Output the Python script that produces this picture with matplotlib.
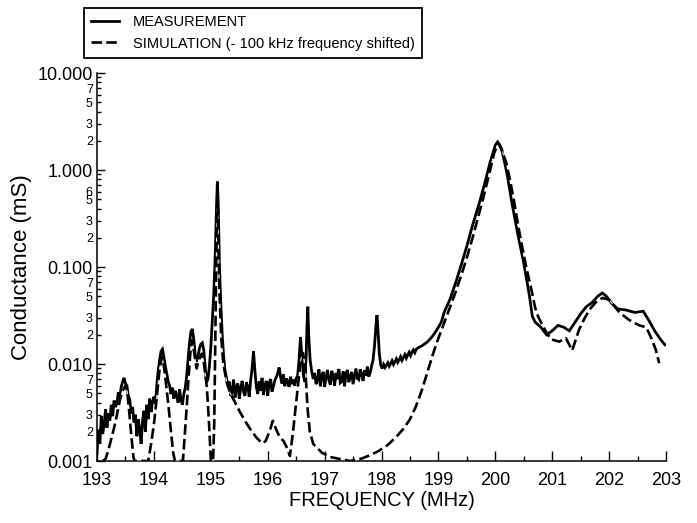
import matplotlib
matplotlib.use("Agg")
import numpy as np
import matplotlib.pyplot as plt
from matplotlib.ticker import FixedLocator, FuncFormatter, LogLocator, MultipleLocator

plt.rcParams['font.family'] = ['Liberation Sans', 'DejaVu Sans']

# measured conductance (mS) against frequency (MHz)
meas = [
    (193.000, 0.0012), (193.025, 0.0021), (193.050, 0.0015), (193.075, 0.0029),
    (193.100, 0.0019), (193.125, 0.0024), (193.150, 0.0034), (193.175, 0.0022),
    (193.200, 0.0031), (193.225, 0.0026), (193.250, 0.0038), (193.275, 0.0029),
    (193.300, 0.0042), (193.325, 0.0036), (193.350, 0.0040), (193.375, 0.0051),
    (193.400, 0.0045), (193.425, 0.0058), (193.450, 0.0066), (193.475, 0.0072),
    (193.500, 0.0063), (193.525, 0.0060), (193.550, 0.0047), (193.575, 0.0043),
    (193.600, 0.0031), (193.625, 0.0036), (193.650, 0.0025), (193.675, 0.0030),
    (193.700, 0.0018), (193.725, 0.0027), (193.750, 0.0021), (193.775, 0.0015),
    (193.800, 0.0026), (193.825, 0.0033), (193.850, 0.0020), (193.875, 0.0038),
    (193.900, 0.0027), (193.925, 0.0044), (193.950, 0.0032), (193.975, 0.0041),
    (194.000, 0.0046), (194.025, 0.0039), (194.050, 0.0060), (194.075, 0.0085),
    (194.100, 0.0110), (194.125, 0.0135), (194.150, 0.0142), (194.175, 0.0118),
    (194.200, 0.0095), (194.225, 0.0080), (194.250, 0.0066), (194.275, 0.0060),
    (194.300, 0.0049), (194.325, 0.0057), (194.350, 0.0044), (194.375, 0.0053),
    (194.400, 0.0047), (194.425, 0.0040), (194.450, 0.0055), (194.475, 0.0043),
    (194.500, 0.0038), (194.525, 0.0049), (194.550, 0.0057), (194.575, 0.0075),
    (194.600, 0.0110), (194.625, 0.0165), (194.650, 0.0215), (194.675, 0.0230),
    (194.700, 0.0180), (194.725, 0.0125), (194.750, 0.0105), (194.775, 0.0120),
    (194.800, 0.0145), (194.825, 0.0160), (194.850, 0.0165), (194.875, 0.0140),
    (194.900, 0.0095), (194.925, 0.0065), (194.950, 0.0070), (194.975, 0.0095),
    (195.000, 0.0150), (195.025, 0.0280), (195.050, 0.0500), (195.075, 0.1200),
    (195.100, 0.4200), (195.115, 0.7600), (195.130, 0.4500), (195.150, 0.1100),
    (195.175, 0.0420), (195.200, 0.0200), (195.225, 0.0120), (195.250, 0.0085),
    (195.275, 0.0072), (195.300, 0.0060), (195.325, 0.0066), (195.350, 0.0047),
    (195.375, 0.0052), (195.400, 0.0069), (195.425, 0.0045), (195.450, 0.0059),
    (195.475, 0.0063), (195.500, 0.0044), (195.525, 0.0056), (195.550, 0.0067),
    (195.575, 0.0052), (195.600, 0.0047), (195.625, 0.0065), (195.650, 0.0058),
    (195.675, 0.0046), (195.700, 0.0068), (195.725, 0.0090), (195.750, 0.0135),
    (195.775, 0.0085), (195.800, 0.0058), (195.825, 0.0049), (195.850, 0.0066),
    (195.875, 0.0053), (195.900, 0.0072), (195.925, 0.0048), (195.950, 0.0061),
    (195.975, 0.0067), (196.000, 0.0047), (196.025, 0.0064), (196.050, 0.0070),
    (196.075, 0.0052), (196.100, 0.0059), (196.125, 0.0068), (196.150, 0.0073),
    (196.175, 0.0080), (196.200, 0.0092), (196.225, 0.0074), (196.250, 0.0063),
    (196.275, 0.0078), (196.300, 0.0059), (196.325, 0.0071), (196.350, 0.0066),
    (196.375, 0.0058), (196.400, 0.0074), (196.425, 0.0062), (196.450, 0.0069),
    (196.475, 0.0060), (196.500, 0.0071), (196.525, 0.0075), (196.550, 0.0110),
    (196.575, 0.0190), (196.600, 0.0120), (196.625, 0.0078), (196.650, 0.0066),
    (196.675, 0.0120), (196.690, 0.0250), (196.705, 0.0390), (196.720, 0.0200),
    (196.745, 0.0110), (196.775, 0.0082), (196.800, 0.0070), (196.825, 0.0081),
    (196.850, 0.0062), (196.875, 0.0068), (196.900, 0.0088), (196.925, 0.0059),
    (196.950, 0.0077), (196.975, 0.0083), (197.000, 0.0058), (197.025, 0.0073),
    (197.050, 0.0087), (197.075, 0.0068), (197.100, 0.0061), (197.125, 0.0085),
    (197.150, 0.0076), (197.175, 0.0060), (197.200, 0.0081), (197.225, 0.0070),
    (197.250, 0.0089), (197.275, 0.0064), (197.300, 0.0066), (197.325, 0.0084),
    (197.350, 0.0059), (197.375, 0.0079), (197.400, 0.0087), (197.425, 0.0065),
    (197.450, 0.0073), (197.475, 0.0083), (197.500, 0.0062), (197.525, 0.0075),
    (197.550, 0.0090), (197.575, 0.0071), (197.600, 0.0069), (197.625, 0.0088),
    (197.650, 0.0079), (197.675, 0.0067), (197.700, 0.0086), (197.725, 0.0076),
    (197.750, 0.0094), (197.775, 0.0074), (197.800, 0.0081), (197.825, 0.0095),
    (197.850, 0.0110), (197.875, 0.0150), (197.900, 0.0240), (197.920, 0.0320),
    (197.940, 0.0210), (197.960, 0.0130), (197.985, 0.0098), (198.010, 0.0090),
    (198.035, 0.0099), (198.060, 0.0092), (198.085, 0.0097), (198.110, 0.0103),
    (198.135, 0.0095), (198.160, 0.0101), (198.185, 0.0108), (198.210, 0.0099),
    (198.235, 0.0106), (198.260, 0.0113), (198.285, 0.0104), (198.310, 0.0110),
    (198.335, 0.0119), (198.360, 0.0109), (198.385, 0.0117), (198.410, 0.0125),
    (198.435, 0.0115), (198.460, 0.0124), (198.485, 0.0132), (198.510, 0.0122),
    (198.535, 0.0133), (198.560, 0.0140), (198.585, 0.0131), (198.610, 0.0142),
    (198.650, 0.0148), (198.700, 0.0153), (198.750, 0.0160), (198.800, 0.0168),
    (198.850, 0.0180), (198.900, 0.0195), (198.950, 0.0215), (199.000, 0.0240),
    (199.050, 0.0270), (199.100, 0.0340), (199.200, 0.0460), (199.300, 0.0680),
    (199.400, 0.1050), (199.500, 0.1650), (199.600, 0.2700), (199.700, 0.4200),
    (199.800, 0.6800), (199.900, 1.1500), (199.950, 1.4500), (200.000, 1.8000),
    (200.040, 1.9500), (200.080, 1.8000), (200.120, 1.5500), (200.200, 0.9500),
    (200.300, 0.4300), (200.400, 0.2100), (200.500, 0.1100), (200.600, 0.0500),
    (200.650, 0.0310), (200.700, 0.0270), (200.800, 0.0240), (200.900, 0.0200),
    (201.000, 0.0220), (201.100, 0.0250), (201.200, 0.0240), (201.300, 0.0220),
    (201.400, 0.0270), (201.500, 0.0330), (201.600, 0.0390), (201.700, 0.0430),
    (201.800, 0.0500), (201.880, 0.0540), (201.950, 0.0500), (202.050, 0.0420),
    (202.150, 0.0370), (202.300, 0.0360), (202.450, 0.0340), (202.600, 0.0350),
    (202.700, 0.0280), (202.800, 0.0220), (202.900, 0.0180), (202.980, 0.0158),
]

# simulated conductance (mS), already shifted by -100 kHz
sim = [
    (193.100, 0.00100), (193.150, 0.00105), (193.200, 0.0013), (193.250, 0.0017),
    (193.300, 0.0022), (193.350, 0.0030), (193.400, 0.0042), (193.450, 0.0053),
    (193.500, 0.0060), (193.530, 0.0052), (193.560, 0.0035), (193.600, 0.0019),
    (193.640, 0.0011), (193.660, 0.0010), (193.900, 0.0010), (193.950, 0.0015),
    (194.000, 0.0024), (194.050, 0.0045), (194.100, 0.0090), (194.140, 0.0118),
    (194.170, 0.0100), (194.200, 0.0072), (194.250, 0.0040), (194.300, 0.0020),
    (194.340, 0.0012), (194.370, 0.0010), (194.510, 0.0010), (194.550, 0.0022),
    (194.580, 0.0039), (194.610, 0.0075), (194.640, 0.0130), (194.670, 0.0176),
    (194.700, 0.0140), (194.750, 0.0090), (194.790, 0.0110), (194.840, 0.0128),
    (194.880, 0.0100), (194.930, 0.0058), (194.960, 0.0030), (194.980, 0.0018),
    (195.000, 0.0010), (195.040, 0.0010), (195.060, 0.0025), (195.080, 0.0200),
    (195.100, 0.2000), (195.115, 0.6000), (195.130, 0.2500), (195.150, 0.0600),
    (195.180, 0.0200), (195.220, 0.0100), (195.280, 0.0065), (195.340, 0.0050),
    (195.400, 0.0043), (195.500, 0.0033), (195.600, 0.0026), (195.700, 0.0021),
    (195.800, 0.00175), (195.900, 0.00152), (195.960, 0.0016), (196.030, 0.0020),
    (196.090, 0.0026), (196.150, 0.0021), (196.210, 0.00177), (196.280, 0.0016),
    (196.330, 0.0014), (196.390, 0.00113), (196.440, 0.0019), (196.500, 0.0040),
    (196.540, 0.0065), (196.580, 0.0110), (196.620, 0.0130), (196.660, 0.0090),
    (196.700, 0.0035), (196.740, 0.0020), (196.800, 0.0015), (196.860, 0.00138),
    (196.950, 0.00122), (197.100, 0.00110), (197.300, 0.00104), (197.450, 0.00100),
    (197.650, 0.00106), (197.800, 0.00115), (197.950, 0.00127), (198.100, 0.00145),
    (198.250, 0.00175), (198.400, 0.0022), (198.500, 0.0027), (198.600, 0.0036),
    (198.700, 0.0052), (198.800, 0.0080), (198.900, 0.0125), (199.000, 0.0185),
    (199.100, 0.0265), (199.200, 0.038), (199.300, 0.055), (199.400, 0.082),
    (199.500, 0.125), (199.600, 0.20), (199.700, 0.33), (199.800, 0.55),
    (199.900, 0.95), (199.980, 1.50), (200.050, 1.88), (200.100, 1.70),
    (200.190, 1.20), (200.260, 0.78), (200.330, 0.47), (200.400, 0.27),
    (200.470, 0.163), (200.550, 0.095), (200.630, 0.060), (200.700, 0.038),
    (200.750, 0.031), (200.800, 0.027), (200.900, 0.021), (200.980, 0.018),
    (201.120, 0.017), (201.240, 0.0185), (201.350, 0.0138), (201.470, 0.0225),
    (201.560, 0.029), (201.650, 0.036), (201.760, 0.043), (201.880, 0.048),
    (202.000, 0.046), (202.100, 0.039), (202.180, 0.034), (202.350, 0.0285),
    (202.530, 0.025), (202.650, 0.024), (202.750, 0.018), (202.820, 0.014),
    (202.880, 0.0102),
]

meas_f = [p[0] for p in meas]
meas_g = [p[1] for p in meas]
sim_f = [p[0] for p in sim]
sim_g = [p[1] for p in sim]

x_ticks = [193, 194, 195, 196, 197, 198, 199, 200, 201, 202, 203]
y_major = [0.001, 0.01, 0.1, 1.0, 10.0]
# minor positions that carry a small digit label
y_minor_labelled = [0.002, 0.003, 0.005, 0.007,
                    0.02, 0.03, 0.05, 0.07,
                    0.2, 0.3, 0.5, 0.6,
                    2, 3, 5, 7]

fig = plt.figure(figsize=(6.97, 5.23), dpi=100)
ax = fig.add_axes([0.1392, 0.1185, 0.8164, 0.7419])

ax.plot(meas_f, meas_g, color='black', lw=2.0, solid_joinstyle='miter',
        label='MEASUREMENT', zorder=3)
# thin white core so the dash gaps show where the curves overlap
ax.plot(sim_f, sim_g, color='white', lw=0.7, zorder=4)
ax.plot(sim_f, sim_g, color='black', lw=1.9, dashes=(4, 1.6),
        label='SIMULATION (- 100 kHz frequency shifted)', zorder=5)

ax.set_yscale('log')
ax.set_xlim(193, 203)
ax.set_ylim(0.001, 10)

ax.spines['top'].set_visible(False)
ax.spines['right'].set_visible(False)
ax.spines['left'].set_linewidth(1.1)
ax.spines['bottom'].set_linewidth(1.1)

ax.xaxis.set_major_locator(FixedLocator(x_ticks))
ax.xaxis.set_minor_locator(MultipleLocator(0.5))
ax.yaxis.set_major_locator(FixedLocator(y_major))
ax.yaxis.set_minor_locator(LogLocator(base=10, subs=range(2, 10), numticks=20))
ax.yaxis.set_major_formatter(FuncFormatter(lambda v, p: f"{v:.3f}"))


def minor_label(v, pos):
    for m in y_minor_labelled:
        if abs(v - m) / m < 1e-6:
            return f"{int(round(v / 10 ** np.floor(np.log10(v))))}"
    return ""


ax.yaxis.set_minor_formatter(FuncFormatter(minor_label))

ax.tick_params(axis='both', which='both', direction='in', color='black', width=1.0)
ax.tick_params(axis='x', which='major', length=7, labelsize=13, pad=8)
ax.tick_params(axis='x', which='minor', length=3.5)
ax.tick_params(axis='y', which='major', length=6, labelsize=13, pad=3)
ax.tick_params(axis='y', which='minor', length=3, labelsize=9, pad=3)

ax.set_xlabel('FREQUENCY (MHz)', fontsize=14.5, labelpad=1)
ax.set_ylabel('Conductance (mS)', fontsize=16, labelpad=4)

leg = fig.legend(loc='upper left', bbox_to_anchor=(84 / 697, 1 - 8 / 523),
                 frameon=True, fancybox=False, edgecolor='black', framealpha=1,
                 prop={'size': 10.5},
                 handlelength=1.9, handletextpad=0.95, borderpad=0.5,
                 labelspacing=0.5, borderaxespad=0)
leg.get_frame().set_linewidth(1.3)

fig.savefig('out.png', dpi=100)
